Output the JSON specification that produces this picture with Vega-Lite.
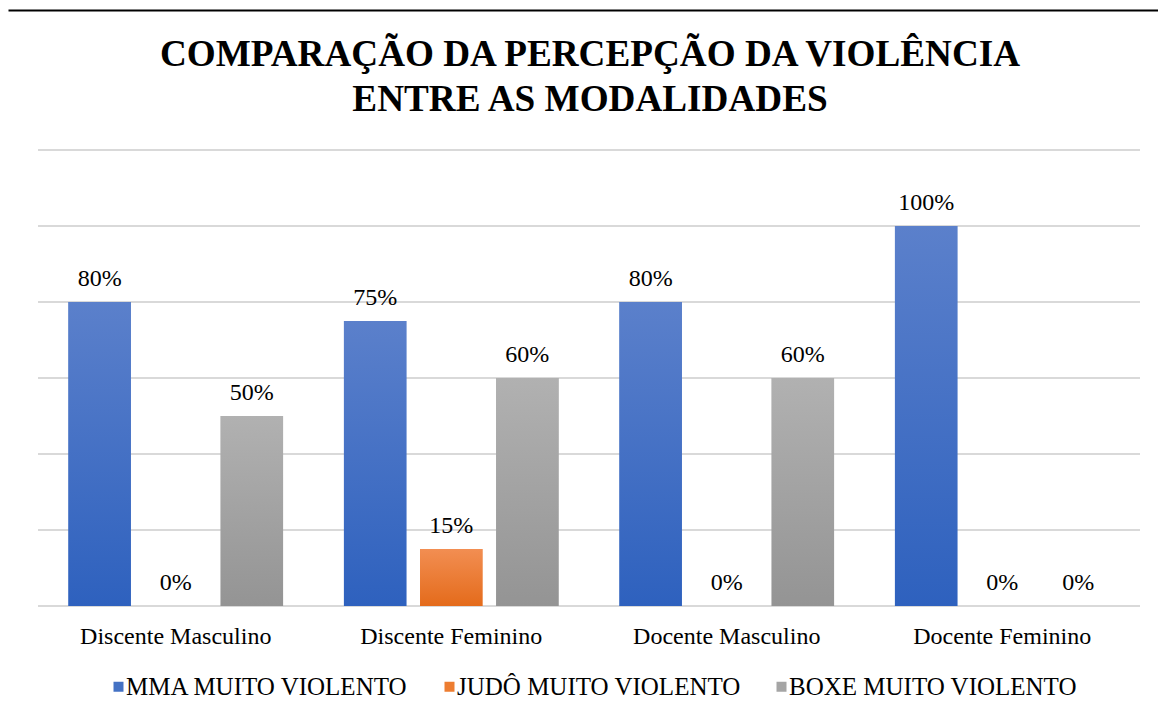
{
  "$schema": "https://vega.github.io/schema/vega-lite/v6.json",
  "autosize": "none",
  "width": 1150,
  "height": 705,
  "padding": {"left": 8, "top": 10, "right": 0, "bottom": 0},
  "background": "white",
  "config": {
    "view": {"stroke": null},
    "font": "Liberation Serif"
  },
  "title": {
    "text": ["COMPARAÇÃO DA PERCEPÇÃO DA VIOLÊNCIA", "ENTRE AS MODALIDADES"],
    "font": "Liberation Serif",
    "fontSize": 37.2,
    "fontWeight": "bold",
    "color": "#000000",
    "anchor": "middle",
    "dx": 7,
    "offset": -109,
    "lineHeight": 45
  },
  "datasets": {
    "bars": [
      {"cat": "Discente Masculino", "serie": "MMA MUITO VIOLENTO", "v": 0.80},
      {"cat": "Discente Masculino", "serie": "JUDÔ MUITO VIOLENTO", "v": 0},
      {"cat": "Discente Masculino", "serie": "BOXE MUITO VIOLENTO", "v": 0.50},
      {"cat": "Discente Feminino", "serie": "MMA MUITO VIOLENTO", "v": 0.75},
      {"cat": "Discente Feminino", "serie": "JUDÔ MUITO VIOLENTO", "v": 0.15},
      {"cat": "Discente Feminino", "serie": "BOXE MUITO VIOLENTO", "v": 0.60},
      {"cat": "Docente Masculino", "serie": "MMA MUITO VIOLENTO", "v": 0.80},
      {"cat": "Docente Masculino", "serie": "JUDÔ MUITO VIOLENTO", "v": 0},
      {"cat": "Docente Masculino", "serie": "BOXE MUITO VIOLENTO", "v": 0.60},
      {"cat": "Docente Feminino", "serie": "MMA MUITO VIOLENTO", "v": 1.00},
      {"cat": "Docente Feminino", "serie": "JUDÔ MUITO VIOLENTO", "v": 0},
      {"cat": "Docente Feminino", "serie": "BOXE MUITO VIOLENTO", "v": 0}
    ],
    "grid": [{"g": 0}, {"g": 0.2}, {"g": 0.4}, {"g": 0.6}, {"g": 0.8}, {"g": 1.0}, {"g": 1.2}]
  },
  "layer": [
    {
      "data": {"name": "grid"},
      "mark": {"type": "rule", "color": "#d9d9d9", "strokeWidth": 2},
      "encoding": {
        "x": {
          "datum": "Discente Masculino",
          "type": "nominal",
          "bandPosition": 0,
          "scale": {
            "domain": ["Discente Masculino", "Discente Feminino", "Docente Masculino", "Docente Feminino"],
            "paddingInner": 0,
            "paddingOuter": 0.0871,
            "align": 0.625
          },
          "axis": {"orient": "top", "domain": true, "domainColor": "#000000", "domainWidth": 2, "ticks": false, "labels": false, "grid": false, "title": null}
        },
        "x2": {"datum": "Docente Feminino", "bandPosition": 1},
        "y": {
          "field": "g",
          "type": "quantitative",
          "scale": {"domain": [-0.2868, 1.5684], "nice": false, "zero": false},
          "axis": null
        }
      }
    },
    {
      "data": {"name": "bars"},
      "mark": {"type": "bar"},
      "encoding": {
        "x": {
          "field": "cat",
          "type": "nominal",
          "axis": {"orient": "bottom", "offset": -72, "labelBaseline": "alphabetic", "labelPadding": 0, "ticks": false, "domain": false, "grid": false, "labelAngle": 0, "labelFont": "Liberation Serif", "labelFontSize": 24, "labelColor": "#000000", "labelLimit": 0, "title": null}
        },
        "xOffset": {
          "field": "serie",
          "type": "nominal",
          "scale": {"domain": ["MMA MUITO VIOLENTO", "JUDÔ MUITO VIOLENTO", "BOXE MUITO VIOLENTO"], "paddingInner": 0.18, "paddingOuter": 0.4}
        },
        "y": {
          "field": "v",
          "type": "quantitative",
          "axis": {"orient": "left", "domain": true, "domainColor": "#000000", "domainWidth": 2, "ticks": false, "labels": false, "grid": false, "title": null}
        },
        "y2": {"datum": 0},
        "color": {
          "field": "serie",
          "type": "nominal",
          "scale": {"domain": ["MMA MUITO VIOLENTO", "JUDÔ MUITO VIOLENTO", "BOXE MUITO VIOLENTO"], "range": ["#4472c4", "#ed7d31", "#a5a5a5"]},
          "legend": {
            "orient": "none",
            "direction": "horizontal",
            "legendX": 98,
            "legendY": 664,
            "title": null,
            "symbolType": "square",
            "symbolSize": 100,
            "symbolStrokeWidth": 0,
            "labelOffset": -5,
            "columnPadding": 28,
            "labelFont": "Liberation Serif",
            "labelFontSize": 25,
            "labelColor": "#000000",
            "labelLimit": 0
          }
        }
      }
    },
    {
      "data": {"name": "bars"},
      "mark": {"type": "bar"},
      "encoding": {
        "x": {"field": "cat", "type": "nominal", "axis": null},
        "xOffset": {"field": "serie", "type": "nominal"},
        "y": {"field": "v", "type": "quantitative", "axis": null},
        "y2": {"datum": 0},
        "fill": {
          "condition": [
            {"test": "datum.serie === 'MMA MUITO VIOLENTO'", "value": {"gradient": "linear", "x1": 0, "y1": 0, "x2": 0, "y2": 1, "stops": [{"offset": 0, "color": "#5b80cb"}, {"offset": 1, "color": "#2e61be"}]}},
            {"test": "datum.serie === 'JUDÔ MUITO VIOLENTO'", "value": {"gradient": "linear", "x1": 0, "y1": 0, "x2": 0, "y2": 1, "stops": [{"offset": 0, "color": "#f28e52"}, {"offset": 1, "color": "#e46b1b"}]}}
          ],
          "value": {"gradient": "linear", "x1": 0, "y1": 0, "x2": 0, "y2": 1, "stops": [{"offset": 0, "color": "#b1b1b1"}, {"offset": 1, "color": "#949494"}]}
        }
      }
    },
    {
      "data": {"name": "bars"},
      "mark": {"type": "text", "baseline": "alphabetic", "dy": -16, "fontSize": 24, "font": "Liberation Serif", "color": "#000000"},
      "encoding": {
        "x": {"field": "cat", "type": "nominal", "axis": null},
        "xOffset": {"field": "serie", "type": "nominal"},
        "y": {"field": "v", "type": "quantitative", "axis": null},
        "text": {"field": "v", "type": "quantitative", "format": ".0%"}
      }
    }
  ]
}
